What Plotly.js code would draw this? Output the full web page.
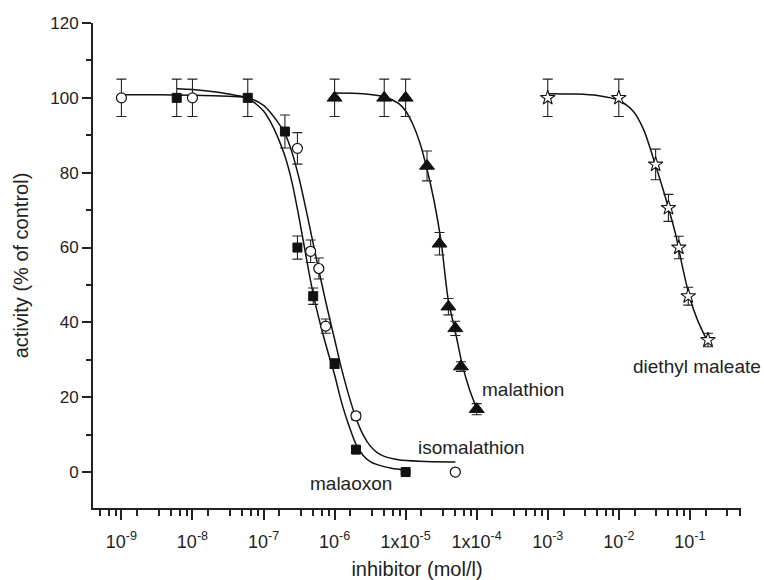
<!DOCTYPE html>
<html>
<head>
<meta charset="utf-8">
<script src="https://cdn.plot.ly/plotly-3.0.1.min.js"></script>
<style>html,body{margin:0;padding:0;background:#fff;}#chart{width:764px;height:580px;}</style>
</head>
<body>
<div id="chart"></div>
<script>
// ---- data ----
const malaoxonX = [6e-9, 6e-8, 2e-7, 3e-7, 5e-7, 1e-6, 2e-6, 1e-5];
const malaoxonY = [100, 100, 91, 60, 47, 29, 6, 0];
const malaoxonErr = [5, 5, 4.4, 3.1, 2.2, 1.3, 0.6, 0.3];

const isoX = [1e-9, 1e-8, 3e-7, 4.6e-7, 6e-7, 7.5e-7, 2e-6, 5e-5];
const isoY = [100, 100, 86.5, 59, 54.4, 39, 15, 0];
const isoErr = [5, 5, 4.2, 3, 2.8, 1.9, 1, 0.3];

const malathionX = [1e-6, 5e-6, 1e-5, 2e-5, 3e-5, 4e-5, 5e-5, 6e-5, 1e-4];
const malathionY = [100, 100, 100, 81.8, 61, 44.2, 38.4, 28.2, 16.8];
const malathionErr = [5, 5, 5, 4, 3, 2.2, 1.9, 1.3, 1.5];

const demX = [1e-3, 1e-2, 3.3e-2, 5e-2, 7e-2, 9.5e-2, 1.8e-1];
const demY = [100, 100, 82.2, 70.6, 60, 47, 35.3];
const demErr = [5, 5, 4.1, 3.6, 3, 2.4, 1.8];

// fitted curves (log10 of concentration, activity)
const malaoxonCurveLogX = [-8.22, -8.0, -7.7, -7.4, -7.22, -7.0, -6.9, -6.8, -6.7, -6.6, -6.5, -6.4, -6.3, -6.2, -6.1, -6.0, -5.9, -5.8, -5.7, -5.6, -5.5, -5.4, -5.2, -5.0];
const malaoxonCurveY    = [102.4, 102.2, 101.6, 100.7, 99.9, 96.5, 93.5, 89.5, 84.5, 77.5, 68, 57.5, 47.5, 39.5, 32.5, 26, 18.5, 12.5, 7.5, 4.5, 2.8, 2.0, 1.0, 0.5];

const isoCurveLogX = [-9.0, -8.5, -8.0, -7.5, -7.22, -7.0, -6.9, -6.8, -6.7, -6.6, -6.5, -6.4, -6.3, -6.2, -6.1, -6.0, -5.9, -5.8, -5.7, -5.6, -5.5, -5.4, -5.3, -5.1, -4.8, -4.3];
const isoCurveY    = [100.8, 100.8, 100.7, 100.4, 100.0, 98, 96, 93.5, 90.5, 85.5, 78.5, 70, 61, 52, 43.5, 35.5, 27.5, 20.5, 14.5, 10, 7, 5.2, 4.2, 3.3, 2.9, 2.7];

const malathionCurveLogX = [-6.0, -5.6, -5.3, -5.1, -5.0, -4.9, -4.8, -4.7, -4.6, -4.5, -4.4, -4.3, -4.2, -4.1, -4.0];
const malathionCurveY    = [101.3, 101.1, 100.3, 98.5, 96.5, 93, 88, 81, 72.5, 61.5, 46, 37.5, 28.5, 22, 17];

const demCurveLogX = [-3.0, -2.6, -2.3, -2.0, -1.8, -1.65, -1.5, -1.4, -1.3, -1.2, -1.1, -1.0, -0.9, -0.8, -0.75];
const demCurveY    = [101.1, 101.0, 100.6, 99.3, 96.5, 91.5, 83, 77, 70.5, 63.5, 54.5, 46.5, 41, 36.8, 35];

const xTickVals = [1e-9, 1e-8, 1e-7, 1e-6, 1e-5, 1e-4, 1e-3, 1e-2, 1e-1];
const xTickText = ['10<sup>-9</sup>', '10<sup>-8</sup>', '10<sup>-7</sup>', '10<sup>-6</sup>', '1x10<sup>-5</sup>', '1x10<sup>-4</sup>', '10<sup>-3</sup>', '10<sup>-2</sup>', '10<sup>-1</sup>'];
const yTickVals = [0, 20, 40, 60, 80, 100, 120];

const labels = [
  {text: 'malaoxon', logx: -5.77, y: -3.1},
  {text: 'isomalathion', logx: -4.07, y: 6.5},
  {text: 'malathion', logx: -3.35, y: 22.1},
  {text: 'diethyl maleate', logx: -0.90, y: 28.2}
];

// minor ticks: Origin-style, linear steps of 10/6 within each decade
const minorVals = [];
for (let n = -10; n <= -1; n++) {
  for (let k = 1; k <= 5; k++) minorVals.push(k * (10 / 6) * Math.pow(10, n));
}

const FONT = 'Liberation Sans, Arial, Helvetica, sans-serif';
const toX = a => a.map(v => Math.pow(10, v));

function curve(lx, y) {
  return {x: toX(lx), y: y, type: 'scatter', mode: 'lines', line: {color: '#111', width: 1.5, shape: 'spline', smoothing: 0.8}, hoverinfo: 'skip', showlegend: false};
}
function pts(x, y, e, marker) {
  return {x: x, y: y, type: 'scatter', mode: 'markers', marker: marker,
    error_y: {type: 'data', array: e, visible: true, color: '#222', thickness: 1.1, width: 5},
    showlegend: false, cliponaxis: false};
}

const data = [
  curve(malaoxonCurveLogX, malaoxonCurveY),
  curve(isoCurveLogX, isoCurveY),
  curve(malathionCurveLogX, malathionCurveY),
  curve(demCurveLogX, demCurveY),
  pts(malaoxonX, malaoxonY, malaoxonErr, {symbol: 'square', size: 9, color: '#111', line: {color: '#111', width: 1}}),
  pts(isoX, isoY, isoErr, {symbol: 'circle', size: 10, color: '#fff', line: {color: '#111', width: 1.2}}),
  pts(malathionX, malathionY, malathionErr, {symbol: 'triangle-up', size: 13, color: '#111', line: {color: '#111', width: 1}}),
  pts(demX, demY, demErr, {symbol: 'star', size: 11, color: '#fff', line: {color: '#111', width: 1.1}})
];

const layout = {
  width: 764, height: 580,
  margin: {l: 93, r: 23, t: 23, b: 72},
  paper_bgcolor: '#fff', plot_bgcolor: '#fff',
  font: {family: FONT, color: '#222', size: 17},
  showlegend: false,
  xaxis: {
    type: 'log', range: [-9.4, -0.28],
    tickmode: 'array', tickvals: xTickVals, ticktext: xTickText,
    ticks: 'outside', ticklen: 10, tickwidth: 2, tickcolor: '#222',
    ticklabelstandoff: 6,
    showline: true, linewidth: 2, linecolor: '#222', showgrid: false, zeroline: false,
    tickfont: {family: FONT, size: 18, color: '#222'},
    minor: {tickmode: 'array', tickvals: minorVals, ticks: 'outside', ticklen: 6, tickwidth: 1.5, tickcolor: '#222', showgrid: false},
    title: {text: 'inhibitor (mol/l)', font: {family: FONT, size: 20, color: '#222'}, standoff: 14}
  },
  yaxis: {
    range: [-9.6, 120],
    tickmode: 'array', tickvals: yTickVals,
    ticks: 'outside', ticklen: 9, tickwidth: 2, tickcolor: '#222',
    showline: true, linewidth: 2, linecolor: '#222', showgrid: false, zeroline: false,
    tickfont: {family: FONT, size: 17, color: '#222'},
    minor: {dtick: 10, ticks: 'outside', ticklen: 5, tickwidth: 1.5, tickcolor: '#222', showgrid: false},
    title: {text: 'activity (% of control)', font: {family: FONT, size: 20, color: '#222'}, standoff: 16}
  },
  annotations: labels.map(l => ({
    x: l.logx, y: l.y, xref: 'x', yref: 'y', text: l.text, showarrow: false,
    font: {family: FONT, size: 19, color: '#222'}, xanchor: 'center', yanchor: 'middle'
  }))
};

Plotly.newPlot('chart', data, layout, {displayModeBar: false});
</script>
</body>
</html>
